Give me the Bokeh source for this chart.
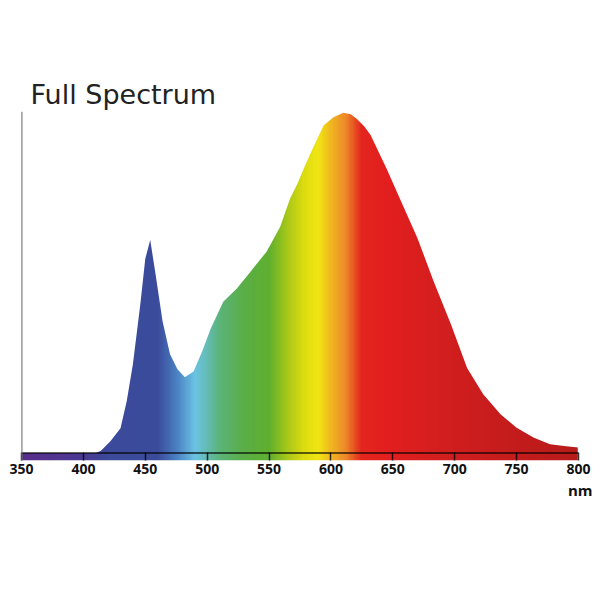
import numpy as np
from bokeh.embed import file_html
from bokeh.models import FixedTicker, Span, Title
from bokeh.plotting import figure
from bokeh.resources import INLINE

# spectrum (relative intensity)
wavelength = [350, 400, 410, 414, 422, 430, 435, 440, 446, 450, 454, 458, 464, 470,
              476, 482, 489, 496, 503, 513, 524, 535, 548, 559, 567, 573, 578, 584,
              594, 602, 610, 616, 621, 627, 632, 645, 656, 670, 683, 697, 710, 723,
              737, 750, 764, 777, 790, 800]
intensity = [0, 0, 0, 0.006, 0.035, 0.073, 0.152, 0.261, 0.437, 0.571, 0.626, 0.533,
             0.387, 0.290, 0.246, 0.223, 0.240, 0.299, 0.367, 0.445, 0.484, 0.533,
             0.592, 0.665, 0.748, 0.792, 0.836, 0.885, 0.963, 0.987, 1.0, 0.996,
             0.982, 0.960, 0.935, 0.836, 0.745, 0.631, 0.504, 0.378, 0.250, 0.173,
             0.114, 0.074, 0.045, 0.026, 0.020, 0.016]
ticks = [350, 400, 450, 500, 550, 600, 650, 700, 750, 800]

# colour stops of the spectrum gradient
stop_nm = [350, 400, 420, 460, 475, 490, 500, 510, 530, 550, 565, 578, 590, 600,
           612, 625, 650, 700, 750, 800]
stop_col = ["#5a2d8c", "#4a3a94", "#3c4a9a", "#3b4c9c", "#4a80c2", "#6cc4e4",
            "#64bcb4", "#5cb47a", "#5aae46", "#5fb030", "#a8c818", "#dcdc10",
            "#f2e614", "#f0b820", "#ee8a2a", "#e4261e", "#e21e1e", "#d01e1e",
            "#c41c1c", "#b81b1b"]

y_lo, y_hi = -0.022, 1.004
mask_top = 1.2  # white cover above the curve reaches past the frame

p = figure(width=600, height=600, x_range=(350, 800), y_range=(y_lo, y_hi),
           y_axis_location=None, output_backend="svg", toolbar_location=None,
           min_border_left=21, min_border_right=22, min_border_top=111,
           min_border_bottom=140)
p.outline_line_color = None
p.grid.visible = False
p.background_fill_color = "white"

# gradient image, kept just inside the frame and masked above the curve
xs = np.linspace(350, 800, 451)
rgb = np.array([[int(c[i:i + 2], 16) for i in (1, 3, 5)] for c in stop_col])
img = np.zeros((2, len(xs)), dtype=np.uint32)
view = img.view(dtype=np.uint8).reshape((2, len(xs), 4))
for k in range(3):
    view[:, :, k] = np.interp(xs, stop_nm, rgb[:, k]).astype(np.uint8)
view[:, :, 3] = 255
p.image_rgba(image=[img], x=350, y=y_lo, dw=449.4, dh=y_hi - y_lo - 0.002)
p.varea(x=wavelength, y1=intensity, y2=mask_top, fill_color="white")

p.add_layout(Span(location=0, dimension="width", line_color="black",
                  line_alpha=0.8, line_width=1.5))
p.add_layout(Span(location=350, dimension="height", line_color="#777777",
                  line_width=2))

ax = p.xaxis[0]
ax.ticker = FixedTicker(ticks=ticks)
ax.axis_line_color = None
ax.major_tick_in = 8
ax.major_tick_out = 0
ax.major_tick_line_color = "black"
ax.major_tick_line_alpha = 0.8
ax.major_tick_line_width = 1.5
ax.minor_tick_line_color = None
ax.major_label_standoff = 3
ax.major_label_text_font = "Open Sans"
ax.major_label_text_font_style = "bold"
ax.major_label_text_font_size = "14px"
ax.major_label_text_color = "#111111"

p.title.text = "Full Spectrum"
p.title.text_font = "DejaVu Sans"
p.title.text_font_style = "normal"
p.title.text_font_size = "27px"
p.title.text_color = "#222222"
p.title.offset = 9
p.title.standoff = 3

unit = Title(text="nm", align="right", offset=-14, standoff=2,
             text_font="Open Sans", text_font_style="bold",
             text_font_size="15px", text_color="#111111")
p.add_layout(unit, "below")

open("out.html", "w").write(file_html(p, INLINE))
